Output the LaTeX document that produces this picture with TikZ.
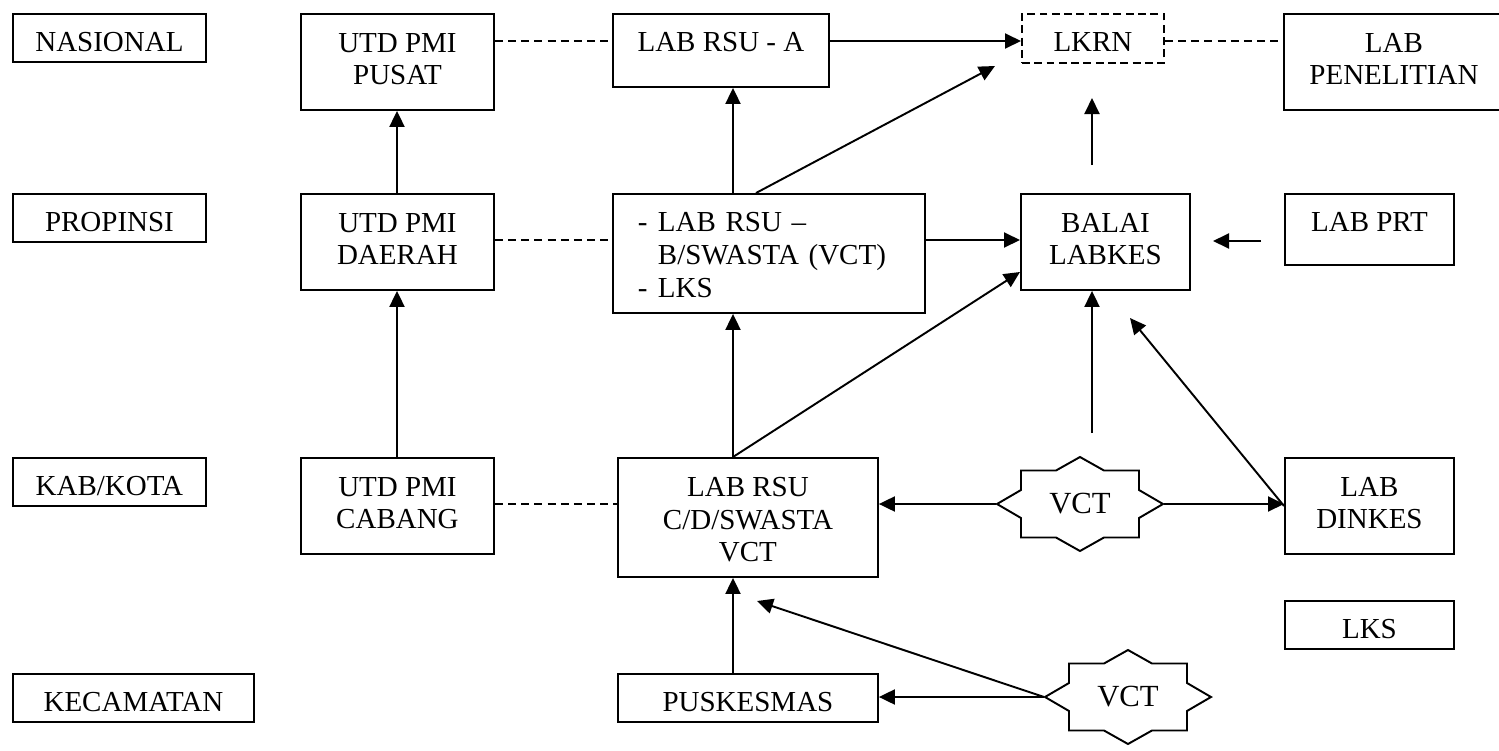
\documentclass[tikz,border=0pt]{standalone}
\usepackage{fontspec}
\setmainfont{Liberation Serif}
\usetikzlibrary{positioning, arrows.meta, calc}

\begin{document}
\begin{tikzpicture}[
    x=0.02cm, y=-0.02cm, % one unit is one pixel of the drawing
    line width=1.1pt,
    >={Triangle[length=0.32cm, width=0.3cm]}, % filled arrow heads
    font=\fontsize{16.5}{18.7}\selectfont,
    unit/.style={draw, inner sep=0pt, anchor=north west, align=center, text height=0.76cm},
    oneline/.style={unit, text depth=0.2cm},
    twoline/.style={unit, text height=1.42cm, text depth=0.5cm}, % last line is the base
    arr/.style={->},
    link/.style={dash pattern=on 4.5pt off 3pt},
    vct/.style={minimum width=3.32cm, minimum height=1.88cm, inner sep=0pt, font=\fontsize{17.5}{20}\selectfont},
    pics/vctstar/.style={code={
        \draw (-83,0) -- (-59,-14) -- (-59,-33.5) -- (-24,-33.5) -- (0,-47) -- (24,-33.5)
            -- (59,-33.5) -- (59,-14) -- (83,0) -- (59,14) -- (59,33.5) -- (24,33.5)
            -- (0,47) -- (-24,33.5) -- (-59,33.5) -- (-59,14) -- cycle;
    }}
]
\useasboundingbox (0,0) rectangle (1499,751);
\clip (0,0) rectangle (1499,751);

% Levels
\node[oneline, minimum width=3.86cm] (nasional) at (12,13) {NASIONAL};
\node[oneline, minimum width=3.86cm] (propinsi) at (12,193) {PROPINSI};
\node[oneline, minimum width=3.86cm] (kabkota) at (12,457) {KAB/KOTA};
\node[oneline, minimum width=4.82cm] (kecamatan) at (12,673) {KECAMATAN};

% UTD PMI column
\node[twoline, minimum width=3.86cm] (pusat) at (300,13) {UTD PMI\\PUSAT};
\node[twoline, minimum width=3.86cm] (daerah) at (300,193) {UTD PMI\\DAERAH};
\node[twoline, minimum width=3.86cm] (cabang) at (300,457) {UTD PMI\\CABANG};

% Hospital column
\node[unit, text depth=0.7cm, minimum width=4.32cm] (rsua) at (612,13) {LAB RSU - A};
\node[unit, text depth=1.62cm, align=left, inner xsep=0.5cm, text width=5.24cm] (mid) at (612,193)
    {\makebox[0.4cm][l]{-}LAB RSU \textendash\\\hspace*{0.4cm}B/SWASTA (VCT)\\\makebox[0.4cm][l]{-}LKS};
\node[unit, text height=2.08cm, text depth=0.3cm, minimum width=5.2cm] (rsuc) at (617,457) {LAB RSU\\C/D/SWASTA\\VCT};
\node[oneline, minimum width=5.2cm] (puskesmas) at (617,673) {PUSKESMAS};

% Right part
\node[unit, text depth=0.22cm, minimum width=2.84cm, dash pattern=on 4.5pt off 2.5pt] (lkrn) at (1021,13) {LKRN};
\node[twoline, minimum width=3.38cm] (balai) at (1020,193) {BALAI\\LABKES};
\node[twoline, minimum width=4.4cm] (penelitian) at (1283,13) {LAB\\PENELITIAN};
\node[unit, text depth=0.66cm, minimum width=3.38cm] (prt) at (1284,193) {LAB PRT};
\node[twoline, minimum width=3.38cm] (dinkes) at (1284,457) {LAB\\DINKES};
\node[oneline, minimum width=3.38cm] (lks) at (1284,600) {LKS};

% VCT stars
\node[vct] (vct1) at (1080,504) {VCT};
\pic at (vct1.center) {vctstar};
\node[vct] (vct2) at (1128,697) {VCT};
\pic at (vct2.center) {vctstar};

% Guide lines and loose ends
\coordinate (c1) at (397,0);
\coordinate (c2) at (733,0);
\coordinate (c3) at (1092,0);
\coordinate (r1) at (0,41);
\coordinate (r2) at (0,240);
\coordinate (r3) at (0,504);
\coordinate (tipA) at (995,66);
\coordinate (tipB) at (1020,272);
\coordinate (tipC) at (1130,318);
\coordinate (tipD) at (757,601);
\coordinate (up1) at (1092,165);
\coordinate (up2) at (1092,98);
\coordinate (vcttop) at (1092,433);
\coordinate (prt1) at (1261,241);
\coordinate (prt2) at (1213,241);

% Dashed links
\draw[link] (pusat.east |- r1) -- (rsua.west |- r1);
\draw[link] (lkrn.east |- r1) -- (penelitian.west |- r1);
\draw[link] (daerah.east |- r2) -- (mid.west |- r2);
\draw[link] (cabang.east |- r3) -- (rsuc.west |- r3);

% Arrows
\draw[arr] (rsua.east |- r1) -- (lkrn.west |- r1);
\draw[arr] (daerah.north -| c1) -- (pusat.south -| c1);
\draw[arr] (cabang.north -| c1) -- (daerah.south -| c1);
\draw[arr] (mid.north -| c2) -- (rsua.south -| c2);
\draw[arr] (rsuc.north -| c2) -- (mid.south -| c2);
\draw[arr] (puskesmas.north -| c2) -- (rsuc.south -| c2);
\draw[arr] ($(mid.north west)+(144,0)$) -- (tipA);
\draw[arr] (mid.east |- r2) -- (balai.west |- r2);
\draw[arr] (rsuc.north -| c2) -- (tipB);
\draw[arr] (up1) -- (up2);
\draw[arr] (prt1) -- (prt2);
\draw[arr] (vcttop) -- (balai.south -| c3);
\draw[arr] (vct1.west) -- (rsuc.east |- vct1.west);
\draw[arr] (vct1.east) -- (dinkes.west |- vct1.east);
\draw[arr] (dinkes.west) -- (tipC);
\draw[arr] (vct2.west) -- (puskesmas.east |- vct2.west);
\draw[arr] (vct2.west) -- (tipD);

\end{tikzpicture}
\end{document}
